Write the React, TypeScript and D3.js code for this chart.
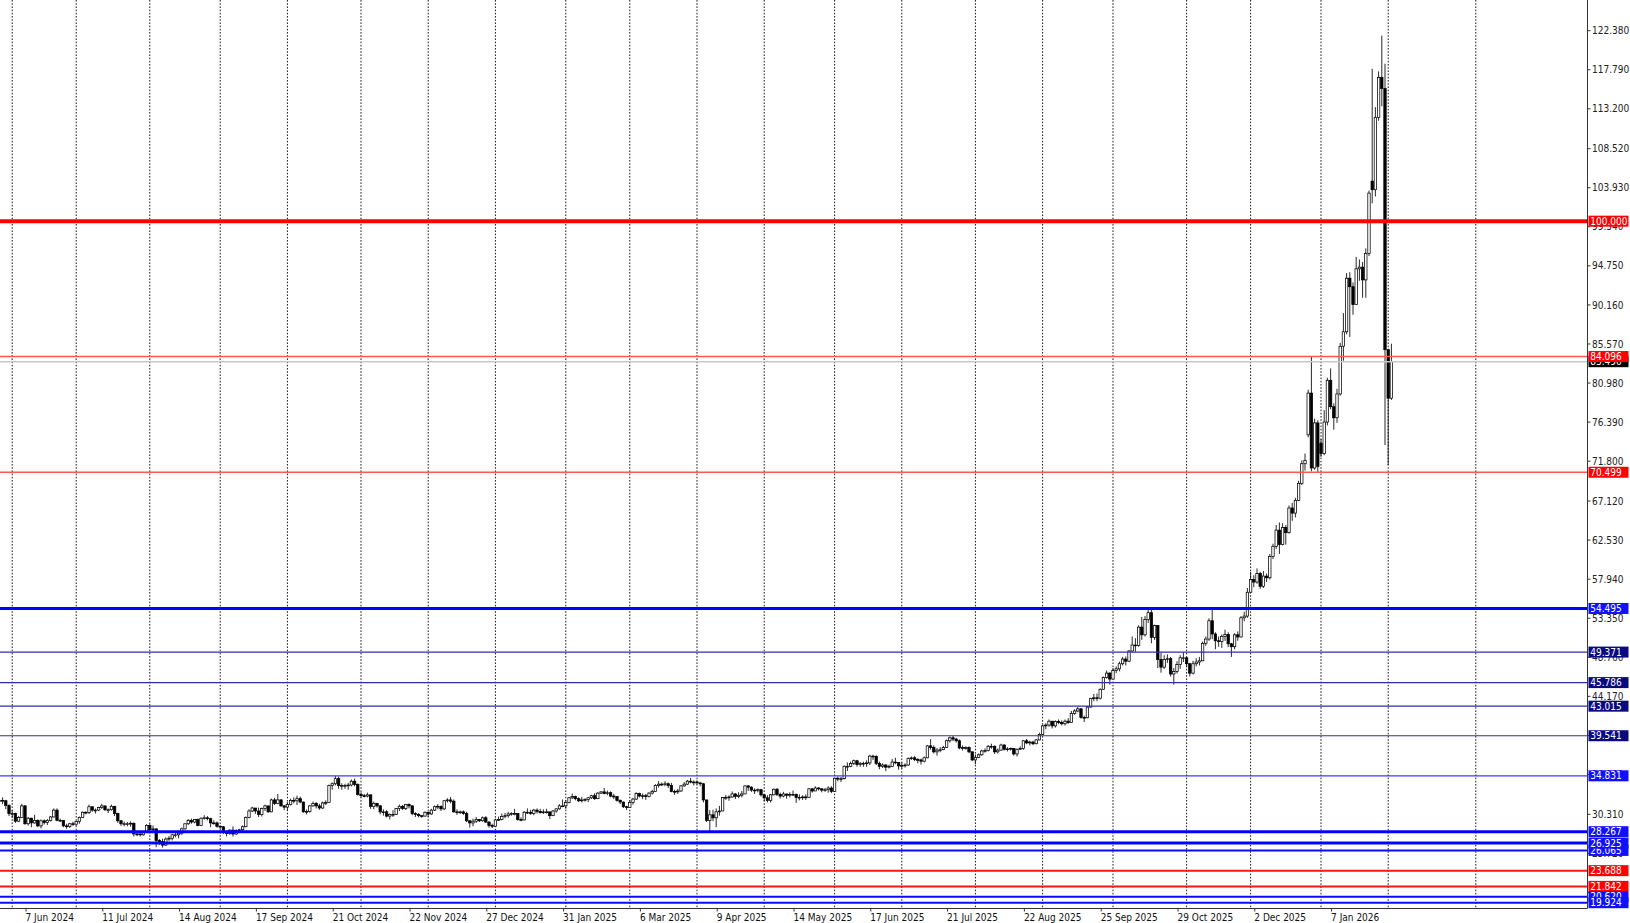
import { useEffect, useRef } from "react";
import * as d3 from "d3";

const width = 1630;
const height = 923;

// trading calendar of the chart (daily bars, broker closed on these days)
const firstDay = "2024-05-28";
const lastDay = "2026-02-03";
const closedDays = ["2024-12-25", "2025-01-01", "2025-04-18", "2025-12-25", "2026-01-01"];

// daily closes, one row per month (May 2024 .. Feb 2026)
const closes: number[][] = [
  [31.95, 31.9, 31.35, 30.4],
  [30.4, 29.5, 29.95, 31.3, 29.2, 29.85, 29.3, 29.6, 28.95, 29.55, 29.35, 29.6, 30.0, 30.8, 29.6, 29.6, 28.95, 28.9, 29.2, 29.15],
  [29.45, 29.95, 30.55, 30.5, 31.2, 30.8, 30.8, 31.1, 31.3, 30.85, 30.85, 31.25, 30.4, 29.55, 29.2, 29.2, 29.2, 29.25, 28.0, 28.0, 27.9, 28.25, 29.0],
  [28.5, 28.6, 27.25, 27.1, 26.7, 27.4, 27.5, 27.9, 27.9, 28.1, 28.6, 29.2, 29.6, 29.4, 29.7, 29.0, 29.85, 29.9, 29.8, 29.3, 29.3, 28.9],
  [28.85, 28.2, 28.05, 28.45, 28.0, 28.4, 28.5, 28.85, 29.95, 30.7, 31.05, 30.7, 30.3, 31.0, 31.3, 30.6, 32.0, 31.6, 32.0, 31.3, 31.15],
  [31.45, 31.95, 31.9, 32.15, 31.75, 30.6, 30.65, 31.3, 31.6, 31.3, 31.05, 31.65, 31.7, 33.7, 33.9, 34.5, 33.7, 33.7, 33.7, 33.75, 34.2, 33.8, 32.65],
  [32.5, 32.45, 32.6, 31.25, 31.6, 31.3, 30.6, 30.6, 30.1, 30.3, 30.3, 31.0, 31.25, 31.0, 31.45, 31.3, 30.4, 30.3, 30.15, 30.1, 30.55],
  [30.35, 30.8, 31.2, 31.25, 30.95, 31.9, 32.0, 31.85, 30.6, 30.5, 30.6, 30.4, 29.55, 29.3, 29.5, 29.7, 29.55, 29.9, 29.4, 29.0, 28.9],
  [29.65, 29.7, 30.05, 30.15, 30.35, 30.4, 30.4, 29.7, 29.65, 30.55, 30.55, 30.4, 30.8, 30.65, 30.5, 30.6, 30.6, 30.15, 30.7, 30.95, 31.3, 31.3],
  [31.7, 32.25, 32.4, 32.15, 31.9, 32.0, 32.05, 32.25, 32.5, 32.15, 32.8, 32.95, 32.75, 32.85, 32.45, 32.4, 31.95, 31.75, 31.2, 31.1],
  [31.7, 32.1, 32.75, 32.45, 32.5, 32.4, 32.8, 33.0, 33.7, 33.85, 33.85, 33.9, 33.7, 33.0, 32.95, 33.05, 33.65, 33.85, 34.2, 34.1, 34.1],
  [34.0, 33.9, 32.0, 29.6, 30.25, 29.9, 30.6, 30.7, 32.3, 32.3, 32.35, 32.7, 32.4, 32.55, 32.7, 33.65, 33.5, 33.15, 33.1, 33.2, 32.6],
  [32.25, 31.95, 32.6, 33.25, 32.65, 32.45, 32.7, 32.55, 32.65, 32.65, 32.3, 32.3, 32.35, 32.3, 33.3, 33.05, 33.4, 33.3, 33.15, 33.2, 33.4, 33.0],
  [34.55, 34.45, 34.5, 35.95, 35.95, 36.3, 36.6, 36.15, 36.3, 36.3, 36.35, 37.15, 37.1, 36.3, 35.95, 36.1, 35.85, 35.95, 36.45, 36.4, 36.0],
  [36.05, 36.1, 36.85, 36.95, 36.75, 36.7, 36.55, 36.95, 38.35, 38.15, 37.65, 37.85, 37.9, 38.15, 38.95, 39.3, 39.15, 38.95, 38.1, 38.15, 38.15, 37.65, 36.7],
  [37.0, 37.3, 37.75, 37.8, 38.3, 38.3, 37.65, 37.85, 38.45, 37.95, 38.0, 38.05, 37.4, 37.95, 38.05, 38.95, 38.7, 38.8, 38.6, 39.05, 39.7],
  [40.7, 40.8, 41.25, 40.7, 41.2, 41.1, 40.95, 41.25, 41.1, 42.15, 42.45, 42.7, 41.7, 41.65, 42.9, 43.9, 44.0, 43.95, 45.0, 46.4, 46.9, 46.2],
  [47.2, 47.4, 48.0, 48.55, 48.3, 49.5, 50.2, 50.15, 52.3, 51.4, 53.2, 54.0, 51.1, 52.5, 48.5, 47.6, 48.5, 48.6, 46.8, 47.1, 47.9, 48.7, 48.7],
  [48.0, 46.9, 48.0, 48.2, 48.35, 50.4, 50.9, 53.05, 51.5, 50.7, 50.6, 51.2, 51.45, 50.35, 50.0, 51.4, 51.15, 53.4, 53.6, 56.4],
  [57.9, 57.6, 58.6, 57.1, 58.3, 58.1, 60.6, 61.8, 63.7, 62.0, 64.0, 63.4, 66.3, 65.7, 67.2, 69.2, 71.5, 71.9, 79.8, 71.0, 76.3, 71.2],
  [72.7, 76.4, 81.3, 78.2, 76.9, 79.7, 85.3, 87.0, 93.3, 92.3, 90.2, 94.4, 94.6, 93.1, 96.2, 103.3, 103.7, 112.2, 116.9, 115.6, 84.9],
  [79.2, 83.49],
];

const highs: number[][] = [
  [32.25, 32.3, 32.0, 31.5],
  [30.8, 30.5, 30.1, 31.55, 31.4, 30.0, 29.9, 30.25, 29.7, 29.7, 29.7, 29.75, 30.1, 31.0, 31.0, 29.8, 29.6, 29.2, 29.3, 29.45],
  [29.55, 30.05, 30.65, 30.65, 31.45, 31.2, 31.0, 31.2, 31.55, 31.3, 31.0, 31.45, 31.3, 30.5, 29.65, 29.45, 29.4, 29.5, 29.35, 28.3, 28.25, 28.35, 29.15],
  [29.2, 29.0, 28.4, 27.4, 27.45, 27.6, 27.75, 28.0, 28.1, 28.15, 28.75, 29.25, 29.75, 29.8, 29.75, 29.8, 29.95, 30.2, 30.1, 29.9, 29.6, 29.45],
  [29.0, 28.9, 28.3, 28.55, 28.9, 28.55, 28.6, 29.0, 30.05, 30.9, 31.2, 31.05, 31.1, 31.1, 31.45, 31.3, 32.15, 32.25, 32.7, 32.1, 31.4],
  [31.75, 32.15, 32.3, 32.5, 32.4, 31.8, 30.9, 31.4, 31.8, 31.75, 31.55, 31.8, 31.95, 33.8, 34.05, 34.83, 34.75, 33.95, 33.9, 34.0, 34.4, 34.5, 33.95],
  [32.9, 32.7, 32.85, 32.6, 31.8, 31.65, 31.4, 30.9, 30.8, 30.4, 30.8, 31.05, 31.45, 31.4, 31.5, 31.6, 31.4, 30.55, 30.45, 30.2, 30.65],
  [30.6, 30.95, 31.35, 31.5, 31.35, 32.0, 32.2, 32.35, 32.05, 30.9, 30.75, 30.75, 30.6, 29.55, 29.8, 30.0, 29.75, 30.05, 30.1, 29.5, 29.2],
  [29.8, 30.05, 30.4, 30.45, 30.6, 30.55, 30.95, 30.45, 29.95, 30.7, 31.0, 30.85, 30.95, 31.0, 30.95, 30.9, 30.95, 30.6, 30.8, 31.0, 31.5, 32.05],
  [31.95, 32.35, 32.75, 32.5, 32.3, 32.35, 32.2, 32.35, 32.6, 32.8, 32.9, 33.0, 33.4, 33.1, 33.0, 32.7, 32.45, 32.05, 31.8, 31.3],
  [31.95, 32.25, 32.9, 32.85, 32.75, 32.7, 32.9, 33.2, 33.85, 34.2, 34.05, 34.2, 34.05, 34.0, 33.2, 33.3, 33.75, 34.1, 34.35, 34.58, 34.3],
  [34.3, 34.1, 34.0, 32.0, 30.8, 30.85, 31.0, 31.3, 32.35, 32.6, 32.55, 33.0, 32.8, 32.9, 33.05, 33.7, 33.7, 33.6, 33.35, 33.35, 33.3],
  [32.7, 32.55, 32.7, 33.35, 33.4, 32.85, 32.95, 32.7, 32.9, 33.1, 32.75, 32.65, 32.55, 32.65, 33.4, 33.4, 33.6, 33.5, 33.4, 33.4, 33.6, 33.6],
  [34.6, 34.75, 34.7, 36.05, 36.4, 36.5, 36.75, 36.7, 36.45, 36.5, 36.65, 37.3, 37.3, 37.25, 36.5, 36.3, 36.2, 36.15, 36.8, 36.95, 36.3],
  [36.4, 36.3, 37.0, 37.1, 37.15, 36.9, 36.85, 37.1, 38.45, 39.15, 38.4, 38.1, 38.2, 38.35, 39.1, 39.45, 39.53, 39.3, 39.1, 38.4, 38.3, 38.3, 37.7],
  [37.35, 37.45, 37.9, 38.05, 38.45, 38.6, 38.4, 38.05, 38.6, 38.55, 38.2, 38.15, 38.1, 38.05, 38.3, 39.05, 39.15, 38.95, 38.95, 39.15, 39.9],
  [40.8, 41.0, 41.45, 41.15, 41.35, 41.45, 41.35, 41.45, 41.6, 42.45, 42.65, 42.95, 42.8, 41.9, 43.0, 44.0, 44.45, 44.5, 45.1, 46.5, 47.2, 47.0],
  [47.5, 47.7, 48.25, 48.8, 48.85, 49.6, 51.2, 51.0, 52.5, 53.5, 53.6, 54.45, 54.49, 52.6, 52.5, 49.3, 49.0, 49.1, 48.8, 47.5, 48.3, 49.0, 49.35],
  [48.7, 48.1, 48.35, 48.65, 48.8, 50.6, 51.2, 53.35, 54.4, 51.7, 51.2, 51.45, 52.0, 51.7, 50.45, 51.6, 51.8, 53.6, 54.1, 56.9],
  [58.8, 58.4, 59.2, 58.8, 58.9, 58.6, 60.9, 62.1, 64.3, 64.6, 64.5, 64.3, 66.6, 66.9, 67.5, 69.5, 71.9, 72.7, 80.2, 84.09, 76.8, 76.6],
  [74.4, 77.8, 81.6, 82.7, 78.6, 80.3, 85.7, 89.2, 93.9, 94.0, 92.8, 95.8, 95.5, 95.2, 96.8, 103.6, 117.9, 113.4, 117.6, 121.8, 118.5],
  [84.9, 85.6],
];

const lows: number[][] = [
  [31.3, 31.5, 30.9, 30.1],
  [29.9, 29.3, 29.4, 29.9, 29.1, 29.0, 28.8, 29.2, 28.8, 28.65, 29.1, 29.05, 29.45, 29.95, 29.5, 29.4, 28.8, 28.6, 28.7, 28.95],
  [28.95, 29.2, 29.9, 30.3, 30.35, 30.6, 30.4, 30.7, 30.95, 30.7, 30.45, 30.75, 30.1, 29.3, 28.95, 28.9, 28.9, 28.85, 27.7, 27.75, 27.7, 27.8, 28.2],
  [28.4, 28.2, 26.45, 26.7, 26.4, 26.6, 27.2, 27.25, 27.6, 27.5, 27.9, 28.5, 29.05, 29.2, 29.25, 28.9, 28.95, 29.7, 29.6, 28.8, 29.1, 28.75],
  [28.6, 28.0, 27.7, 27.9, 27.7, 27.9, 28.1, 28.3, 28.8, 29.85, 30.55, 30.35, 30.0, 30.05, 30.7, 30.5, 30.55, 31.4, 31.5, 31.2, 30.8],
  [30.75, 31.35, 31.6, 31.4, 31.6, 30.5, 30.3, 30.5, 31.2, 31.0, 30.85, 30.95, 31.4, 31.65, 33.2, 33.7, 33.3, 33.2, 33.3, 33.2, 33.6, 33.6, 32.5],
  [32.3, 32.3, 32.3, 30.95, 30.9, 31.1, 30.3, 30.15, 29.95, 29.7, 30.0, 30.25, 30.7, 30.8, 30.8, 31.0, 30.2, 30.0, 29.95, 29.9, 30.05],
  [30.0, 30.25, 30.7, 30.9, 30.7, 30.8, 31.7, 31.6, 30.5, 30.25, 30.35, 30.25, 29.4, 28.75, 28.9, 29.3, 29.4, 29.45, 29.3, 28.75, 28.7],
  [28.95, 29.55, 29.6, 29.85, 29.9, 30.15, 30.2, 29.55, 29.5, 29.6, 30.35, 30.25, 30.2, 30.4, 30.4, 30.35, 30.4, 29.75, 30.1, 30.5, 30.85, 31.15],
  [30.95, 31.6, 32.1, 31.95, 31.75, 31.7, 31.8, 31.75, 32.1, 32.0, 32.1, 32.7, 32.65, 32.55, 32.3, 32.1, 31.8, 31.5, 31.05, 30.8],
  [31.05, 31.45, 32.0, 32.3, 32.1, 32.0, 32.3, 32.65, 32.95, 33.45, 33.65, 33.6, 33.4, 32.9, 32.6, 32.7, 32.95, 33.55, 33.75, 33.95, 33.7],
  [33.8, 33.6, 31.7, 29.4, 28.3, 29.5, 28.8, 30.15, 30.7, 32.0, 31.9, 32.25, 32.1, 32.2, 32.3, 32.75, 33.05, 32.95, 32.7, 32.9, 32.4],
  [31.85, 31.7, 31.7, 32.55, 32.45, 32.15, 32.3, 32.15, 32.3, 32.45, 31.65, 31.95, 32.0, 32.0, 32.25, 32.85, 33.05, 33.1, 32.9, 32.95, 32.85, 32.8],
  [32.95, 34.2, 34.1, 34.4, 35.4, 35.85, 36.1, 35.9, 35.9, 35.9, 35.9, 36.1, 36.7, 36.1, 35.6, 35.75, 35.4, 35.7, 35.85, 36.2, 35.55],
  [35.7, 35.8, 36.0, 36.7, 36.55, 36.3, 36.15, 36.4, 36.9, 37.9, 37.45, 37.2, 37.6, 37.85, 38.1, 38.75, 38.9, 38.75, 37.95, 37.8, 37.9, 37.5, 36.55],
  [36.2, 36.9, 37.2, 37.55, 37.7, 38.0, 37.4, 37.45, 37.8, 37.8, 37.7, 37.8, 37.2, 37.1, 37.85, 37.9, 38.55, 38.4, 38.45, 38.55, 39.0],
  [39.65, 40.3, 40.6, 40.4, 40.5, 40.9, 40.75, 40.75, 40.95, 41.1, 42.0, 42.3, 41.55, 41.15, 41.6, 42.9, 43.6, 43.6, 43.8, 44.95, 46.25, 45.55],
  [46.3, 46.9, 47.1, 47.8, 47.8, 48.2, 49.4, 49.4, 50.0, 50.8, 51.2, 52.8, 50.4, 50.8, 47.5, 46.95, 47.4, 48.1, 46.5, 45.55, 46.85, 47.4, 48.2],
  [47.6, 46.5, 46.75, 47.7, 47.8, 48.3, 50.1, 50.7, 50.9, 49.7, 50.0, 49.85, 50.7, 49.95, 48.8, 49.7, 50.7, 51.1, 53.0, 53.4],
  [56.4, 57.0, 57.4, 56.8, 56.9, 57.6, 57.9, 60.3, 61.5, 60.9, 61.9, 62.0, 63.3, 64.8, 65.2, 67.1, 69.0, 70.7, 74.6, 70.6, 70.8, 70.5],
  [72.3, 72.5, 76.0, 77.9, 75.5, 76.3, 79.5, 83.6, 86.7, 86.4, 89.0, 90.6, 93.0, 91.0, 91.0, 95.9, 102.1, 102.9, 111.8, 113.5, 73.7],
  [71.35, 79.0],
];

// first bar opens here; bars after a holiday / weekend gap open away from the prior close
const firstOpen = 31.8;
const gapOpens: [string, number][] = [
  ["2025-12-26", 74.9],
  ["2026-01-02", 73.9],
  ["2026-01-26", 104.7],
];

// price scale labels on the right
const priceTicks = [122.38, 117.79, 113.2, 108.52, 103.93, 99.34, 94.75, 90.16, 85.57, 80.98, 76.39, 71.8, 67.12, 62.53, 57.94, 53.35, 48.76, 44.17, 39.58, 34.99, 30.31, 25.72, 21.13];

// horizontal levels drawn on the chart (later ones sit on top)
const levelValues = [100.0, 84.096, 70.499, 54.495, 49.371, 45.786, 43.015, 39.541, 34.831, 28.267, 26.065, 26.925, 23.688, 21.842, 20.62, 19.924];
const levelKinds = ["round", "redThin", "redThin", "blueThick", "navy", "navy", "navy", "navy", "blueThin", "blueThick", "blue", "blueThick", "red", "red", "blue", "blue"];

// month in the future that still gets a separator
const futureMonths = ["2026-03-02"];

const levelLook: Record<string, { stroke: string; sw: number; box: string }> = {
  round: { stroke: "#ff0000", sw: 4, box: "#ff0000" },
  redThin: { stroke: "#ff5656", sw: 1.4, box: "#ff0000" },
  red: { stroke: "#f01818", sw: 2, box: "#ff0000" },
  blueThick: { stroke: "#0000ff", sw: 3, box: "#1010ff" },
  blue: { stroke: "#0a0aff", sw: 2, box: "#1010ff" },
  blueThin: { stroke: "#3a3aff", sw: 1.2, box: "#1010ff" },
  navy: { stroke: "#2e2ea6", sw: 1.2, box: "#0a0a80" },
};

const font = "'DejaVu Sans Condensed', 'DejaVu Sans', sans-serif";

export default function App() {
  const svgRef = useRef<SVGSVGElement | null>(null);

  useEffect(() => {
    document.body.style.margin = "0";
    const svg = d3.select(svgRef.current);
    svg.selectAll("*").remove();

    const parse = d3.utcParse("%Y-%m-%d");
    const fmt = d3.utcFormat("%Y-%m-%d");
    const closed = new Set(closedDays);
    const start = parse(firstDay)!;
    const end = parse(lastDay)!;
    const dates = d3.utcDay
      .range(start, d3.utcDay.offset(end, 1))
      .filter((d) => d.getUTCDay() > 0 && d.getUTCDay() < 6 && !closed.has(fmt(d)));

    const C = closes.flat();
    const Hh = highs.flat();
    const Ll = lows.flat();
    const gaps = new Map(gapOpens);
    const n = Math.min(dates.length, C.length, Hh.length, Ll.length);

    const bars = d3.range(n).map((i) => {
      const key = fmt(dates[i]);
      const o = i === 0 ? firstOpen : gaps.get(key) ?? C[i - 1];
      const c = C[i];
      return {
        i,
        date: dates[i],
        o,
        c,
        h: Math.max(Hh[i], o, c),
        l: Math.min(Ll[i], o, c),
      };
    });

    const plotRight = 1587.5;
    const plotBottom = 908.5;
    const step = 3.2;

    const x = d3
      .scaleLinear()
      .domain([0, n - 1])
      .range([-0.6, -0.6 + (n - 1) * step]);
    const y = d3.scaleLinear().domain([19.924, 122.38]).range([902.7, 30.7]);

    svg.append("rect").attr("width", width).attr("height", height).attr("fill", "#ffffff");

    const clip = svg.append("defs").append("clipPath").attr("id", "plot");
    clip.append("rect").attr("x", 0).attr("y", 0).attr("width", plotRight).attr("height", plotBottom);

    const plot = svg.append("g").attr("clip-path", "url(#plot)");

    // month separators (first bar of every month)
    const monthIdx = bars.filter((b, k) => k > 0 && b.date.getUTCMonth() !== bars[k - 1].date.getUTCMonth()).map((b) => b.i);
    const gridX = monthIdx.map((i) => x(i));
    futureMonths.forEach((m) => {
      const extra = d3.utcDay.count(dates[n - 1], parse(m)!);
      gridX.push(x(n - 1 + extra) - 2);
    });
    plot
      .selectAll(".vgrid")
      .data(gridX)
      .join("line")
      .attr("class", "vgrid")
      .attr("x1", (d) => d)
      .attr("x2", (d) => d)
      .attr("y1", 0)
      .attr("y2", plotBottom)
      .attr("stroke", "#1a1a1a")
      .attr("stroke-width", 1)
      .attr("stroke-dasharray", "1.6 1.6");

    // candles
    const candles = plot.append("g");
    candles
      .selectAll(".wick")
      .data(bars)
      .join("line")
      .attr("class", "wick")
      .attr("x1", (d) => x(d.i))
      .attr("x2", (d) => x(d.i))
      .attr("y1", (d) => y(d.h))
      .attr("y2", (d) => y(d.l))
      .attr("stroke", "#111")
      .attr("stroke-width", 0.9);
    candles
      .selectAll(".body")
      .data(bars)
      .join("rect")
      .attr("class", "body")
      .attr("x", (d) => x(d.i) - 1.2)
      .attr("width", 2.4)
      .attr("y", (d) => y(Math.max(d.o, d.c)))
      .attr("height", (d) => Math.max(0.8, Math.abs(y(d.o) - y(d.c))))
      .attr("fill", (d) => (d.c >= d.o ? "#ffffff" : "#000000"))
      .attr("stroke", "#000")
      .attr("stroke-width", 0.75);

    // bid line
    const last = bars[n - 1];
    plot
      .append("line")
      .attr("x1", 0)
      .attr("x2", plotRight)
      .attr("y1", y(last.c))
      .attr("y2", y(last.c))
      .attr("stroke", "#c8c8c8")
      .attr("stroke-width", 1.4);

    // level lines
    const levels = levelValues.map((v, k) => ({ v, look: levelLook[levelKinds[k]] }));
    plot
      .selectAll(".level")
      .data(levels)
      .join("line")
      .attr("class", "level")
      .attr("x1", 0)
      .attr("x2", plotRight)
      .attr("y1", (d) => y(d.v))
      .attr("y2", (d) => y(d.v))
      .attr("stroke", (d) => d.look.stroke)
      .attr("stroke-width", (d) => d.look.sw);

    // axes frame
    svg
      .append("line")
      .attr("x1", plotRight)
      .attr("x2", plotRight)
      .attr("y1", 0)
      .attr("y2", plotBottom)
      .attr("stroke", "#333")
      .attr("stroke-width", 1);
    svg
      .append("line")
      .attr("x1", 0)
      .attr("x2", plotRight)
      .attr("y1", plotBottom)
      .attr("y2", plotBottom)
      .attr("stroke", "#333")
      .attr("stroke-width", 1);

    // price scale
    const py = svg.append("g");
    py.selectAll("line")
      .data(priceTicks)
      .join("line")
      .attr("x1", plotRight)
      .attr("x2", plotRight + 3)
      .attr("y1", (d) => y(d))
      .attr("y2", (d) => y(d))
      .attr("stroke", "#333");
    py.selectAll("text")
      .data(priceTicks)
      .join("text")
      .attr("x", 1592)
      .attr("y", (d) => y(d))
      .attr("dy", "0.36em")
      .attr("font-family", font)
      .attr("font-size", 10)
      .attr("fill", "#222")
      .text((d) => d.toFixed(3));

    // price tags
    const tags = [{ v: last.c, box: "#000000" }, ...levels.map((d) => ({ v: d.v, box: d.look.box }))];
    const tag = svg
      .append("g")
      .selectAll("g")
      .data(tags)
      .join("g")
      .attr("transform", (d) => `translate(1588.5,${y(d.v)})`);
    tag
      .append("rect")
      .attr("x", 0)
      .attr("y", -5.5)
      .attr("width", 40)
      .attr("height", 11)
      .attr("fill", (d) => d.box);
    tag
      .append("text")
      .attr("x", 1.8)
      .attr("dy", "0.36em")
      .attr("font-family", font)
      .attr("font-size", 10)
      .attr("fill", "#ffffff")
      .text((d) => d.v.toFixed(3));

    // time scale: a label every 24 bars starting at 7 Jun 2024
    const labelIdx = d3.range(8, n, 24);
    const fmtLabel = d3.utcFormat("%-d %b %Y");
    const tx = svg.append("g");
    tx.selectAll("line")
      .data(labelIdx)
      .join("line")
      .attr("x1", (d) => x(d) + 1)
      .attr("x2", (d) => x(d) + 1)
      .attr("y1", plotBottom)
      .attr("y2", plotBottom + 3)
      .attr("stroke", "#333");
    tx.selectAll("text")
      .data(labelIdx)
      .join("text")
      .attr("x", (d) => x(d) + 0.5)
      .attr("y", 920.5)
      .attr("font-family", font)
      .attr("font-size", 10)
      .attr("fill", "#111")
      .text((d) => fmtLabel(dates[d]));
  }, []);

  return (
    <svg
      ref={svgRef}
      width={width}
      height={height}
      style={{ display: "block", position: "absolute", left: 0, top: 0, backgroundColor: "#ffffff" }}
    />
  );
}
